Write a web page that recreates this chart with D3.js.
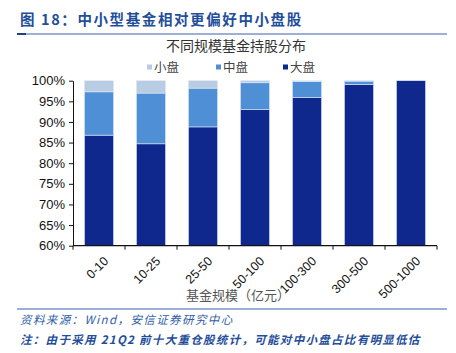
<!DOCTYPE html>
<html>
<head>
<meta charset="utf-8">
<script src="https://cdn.jsdelivr.net/npm/d3@7"></script>
<style>
  body { margin: 0; background: #fff; }
  text { font-family: "Liberation Sans", Arial, sans-serif; }
  .cjk { font-family: "Noto Sans CJK SC", sans-serif; }
</style>
</head>
<body>
<div id="chart"></div>
<script>
// data
var categories = ["0-10", "10-25", "25-50", "50-100", "100-300", "300-500", "500-1000"];
var big   = [86.8, 84.7, 88.8, 93.0, 95.9, 99.1, 100.0];
var mid   = [10.5, 12.3, 9.4, 6.5, 3.9, 0.8, 0.0];
var small = [2.7, 3.0, 1.8, 0.5, 0.2, 0.1, 0.0];
var yTicks = [60, 65, 70, 75, 80, 85, 90, 95, 100];
var seriesNames = ["小盘", "中盘", "大盘"];
var colors = {"小盘": "#b8cce4", "中盘": "#4f8fd5", "大盘": "#0e288e"};

var W = 456, H = 353;
var svg = d3.select("#chart").append("svg")
    .attr("width", W).attr("height", H);

var blue = "#1f4e9a";

// report header
svg.append("text")
    .attr("class", "cjk")
    .attr("x", 20).attr("y", 25)
    .attr("fill", blue)
    .attr("font-size", 14.5)
    .attr("font-weight", "bold")
    .attr("letter-spacing", 1.6)
    .text("图 18：中小型基金相对更偏好中小盘股");

svg.append("line")
    .attr("x1", 17).attr("x2", 447).attr("y1", 34).attr("y2", 34)
    .attr("stroke", "#3a62b0").attr("stroke-width", 1.2);
svg.append("line")
    .attr("x1", 17).attr("x2", 26).attr("y1", 34).attr("y2", 34)
    .attr("stroke", "#1f3f8a").attr("stroke-width", 2);

// chart title
svg.append("text")
    .attr("class", "cjk")
    .attr("x", 236).attr("y", 51)
    .attr("text-anchor", "middle")
    .attr("font-size", 14)
    .attr("fill", "#333")
    .text("不同规模基金持股分布");

// legend
var legendX = [147, 216, 283];
var legend = svg.append("g");
seriesNames.forEach(function(s, i){
    legend.append("rect")
        .attr("x", legendX[i]).attr("y", 64.5)
        .attr("width", 5).attr("height", 5)
        .attr("fill", colors[s]);
    legend.append("text")
        .attr("class", "cjk")
        .attr("x", legendX[i] + 7).attr("y", 71.5)
        .attr("font-size", 12.5)
        .attr("fill", "#444")
        .text(s);
});

// scales
var margin = {left: 73, right: 437, top: 80.7, bottom: 245.7};
var x = d3.scaleBand()
    .domain(categories)
    .range([margin.left, margin.right])
    .paddingInner(0.44).paddingOuter(0.22);
var y = d3.scaleLinear()
    .domain([60, 100])
    .range([margin.bottom, margin.top]);

// stacked bars
var rows = categories.map(function(c, i){
    return {cat: c, "大盘": big[i], "中盘": mid[i], "小盘": small[i]};
});
var stack = d3.stack().keys(["大盘", "中盘", "小盘"]);
var layers = stack(rows);

svg.append("g").selectAll("g")
    .data(layers)
    .enter().append("g")
    .attr("fill", function(d){ return colors[d.key]; })
    .selectAll("rect")
    .data(function(d){ return d; })
    .enter().append("rect")
    .attr("x", function(d){ return x(d.data.cat); })
    .attr("width", x.bandwidth())
    .attr("y", function(d){ return y(Math.min(d[1], 100)); })
    .attr("height", function(d){
        var lo = Math.max(d[0], 60);
        return Math.max(0, y(lo) - y(Math.min(d[1], 100)));
    })
    .attr("stroke", "#dfe8f5")
    .attr("stroke-width", 0.6);

// y axis
var yAxis = svg.append("g")
    .attr("transform", "translate(" + margin.left + ",0)")
    .call(d3.axisLeft(y).tickValues(yTicks).tickSize(4).tickSizeOuter(0)
        .tickFormat(function(d){ return d + "%"; }));
yAxis.selectAll("text").attr("font-size", 13).attr("fill", "#111").attr("x", -8);
yAxis.select(".domain").attr("stroke", "#111");
yAxis.selectAll("line").attr("stroke", "#111");

// x axis with ticks at category boundaries
var step = x.step();
var boundaries = d3.range(categories.length + 1).map(function(i){ return margin.left + i * step; });
var xg = svg.append("g").attr("transform", "translate(0," + margin.bottom + ")");
xg.append("line")
    .attr("x1", margin.left).attr("x2", margin.right)
    .attr("stroke", "#111").attr("stroke-width", 1.2);
xg.selectAll(".tk").data(boundaries).enter().append("line")
    .attr("x1", function(d){ return d; }).attr("x2", function(d){ return d; })
    .attr("y1", 0).attr("y2", 4)
    .attr("stroke", "#111");
xg.selectAll(".lbl").data(categories).enter().append("text")
    .attr("transform", function(d){
        return "translate(" + (x(d) + x.bandwidth() / 2 + 4) + ",10) rotate(-45)";
    })
    .attr("text-anchor", "end")
    .attr("dy", "0.7em")
    .attr("font-size", 12.5)
    .attr("fill", "#111")
    .text(function(d){ return d; });

// x axis title
svg.append("text")
    .attr("class", "cjk")
    .attr("x", 238).attr("y", 300)
    .attr("text-anchor", "middle")
    .attr("font-size", 13)
    .attr("fill", "#555")
    .text("基金规模（亿元）");

// footer
svg.append("line")
    .attr("x1", 17).attr("x2", 447).attr("y1", 309).attr("y2", 309)
    .attr("stroke", "#3a62b0").attr("stroke-width", 1.2);

svg.append("text")
    .attr("class", "cjk")
    .attr("x", 20).attr("y", 324)
    .attr("font-size", 11.5)
    .attr("font-style", "italic")
    .attr("letter-spacing", 1.4)
    .attr("fill", "#2f5ea8")
    .text("资料来源：Wind，安信证券研究中心");

svg.append("text")
    .attr("class", "cjk")
    .attr("x", 20).attr("y", 344)
    .attr("font-size", 11.5)
    .attr("font-style", "italic")
    .attr("font-weight", "bold")
    .attr("letter-spacing", 1.3)
    .attr("fill", "#1f4e9a")
    .text("注：由于采用 21Q2 前十大重仓股统计，可能对中小盘占比有明显低估");
</script>
</body>
</html>
